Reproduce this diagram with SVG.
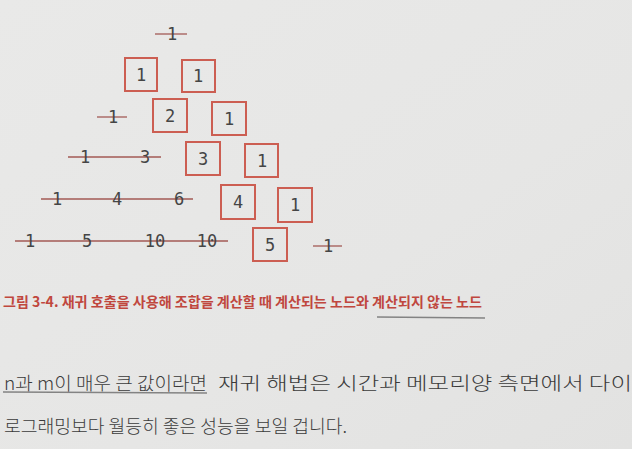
<svg xmlns="http://www.w3.org/2000/svg" width="632" height="449" viewBox="0 0 632 449">
<defs>
<linearGradient id="bg" x1="0" y1="0" x2="1" y2="1">
<stop offset="0" stop-color="#e9e9e8"/>
<stop offset="0.6" stop-color="#e6e6e5"/>
<stop offset="1" stop-color="#e2e2e1"/>
</linearGradient>
<style>
.box{fill:none;stroke:#cc5e52;stroke-width:2}
.num{font-family:"DejaVu Sans Mono","Liberation Mono",monospace;font-size:17px;fill:#454545;text-anchor:middle}
.strike{stroke:#a35a55;stroke-width:1.3;fill:none}
.cap{font-family:"Noto Sans CJK KR","Noto Sans",sans-serif;font-size:14px;font-weight:bold;fill:#c0473e}
.body{font-family:"Noto Sans CJK KR","Noto Sans",sans-serif;font-size:18.5px;font-weight:300;fill:#3a3a3a}
.pencil{stroke:#6a6a6a;stroke-width:1.5;fill:none;opacity:0.8}
</style>
</defs>
<rect width="632" height="449" fill="url(#bg)"/>

<g id="connectors">
<line class="strike" x1="155" y1="34" x2="187" y2="34"/>
<line class="strike" x1="97" y1="117" x2="127" y2="117"/>
<line class="strike" x1="68" y1="157" x2="161" y2="157"/>
<line class="strike" x1="41" y1="199" x2="193" y2="199"/>
<line class="strike" x1="15" y1="241" x2="228" y2="241"/>
<line class="strike" x1="313" y1="246" x2="342" y2="246"/>
</g>

<g id="r1-struck"><text class="num" x="172" y="40">1</text></g>

<g id="r2-a"><rect class="box" x="125" y="58" width="32" height="33"/><text class="num" x="141" y="81">1</text></g>
<g id="r2-b"><rect class="box" x="182" y="60" width="33" height="32"/><text class="num" x="198" y="82">1</text></g>

<g id="r3-struck"><text class="num" x="113" y="123">1</text></g>
<g id="r3-a"><rect class="box" x="153" y="99" width="34" height="33"/><text class="num" x="170" y="122">2</text></g>
<g id="r3-b"><rect class="box" x="212" y="102" width="34" height="33"/><text class="num" x="229" y="125">1</text></g>

<g id="r4-struck"><text class="num" x="85" y="163">1</text><text class="num" x="145" y="163">3</text></g>
<g id="r4-a"><rect class="box" x="186" y="142" width="34" height="33"/><text class="num" x="203" y="165">3</text></g>
<g id="r4-b"><rect class="box" x="245" y="144" width="33" height="33"/><text class="num" x="262" y="167">1</text></g>

<g id="r5-struck"><text class="num" x="57" y="205">1</text><text class="num" x="117" y="205">4</text><text class="num" x="179" y="205">6</text></g>
<g id="r5-a"><rect class="box" x="221" y="185" width="34" height="34"/><text class="num" x="238" y="208">4</text></g>
<g id="r5-b"><rect class="box" x="278" y="188" width="34" height="34"/><text class="num" x="295" y="211">1</text></g>

<g id="r6-struck"><text class="num" x="30" y="247">1</text><text class="num" x="87" y="247">5</text><text class="num" x="155" y="247">10</text><text class="num" x="207" y="247">10</text></g>
<g id="r6-a"><rect class="box" x="253" y="228" width="34" height="33"/><text class="num" x="270" y="251">5</text></g>
<g id="r6-struck-b"><text class="num" x="328" y="252">1</text></g>

<text class="cap" x="3" y="307" textLength="479" lengthAdjust="spacingAndGlyphs">그림 3-4. 재귀 호출을 사용해 조합을 계산할 때 계산되는 노드와 계산되지 않는 노드</text>
<line class="pencil" x1="377" y1="317" x2="485" y2="318" opacity="0.5"/>

<text class="body" y="390"><tspan x="4" textLength="203" lengthAdjust="spacingAndGlyphs">n과 m이 매우 큰 값이라면</tspan><tspan x="218" textLength="414" lengthAdjust="spacingAndGlyphs">재귀 해법은 시간과 메모리양 측면에서 다이</tspan></text>
<line class="pencil" x1="3" y1="392" x2="207" y2="393"/>
<text class="body" x="4" y="433" textLength="343" lengthAdjust="spacingAndGlyphs">로그래밍보다 월등히 좋은 성능을 보일 겁니다.</text>
</svg>
